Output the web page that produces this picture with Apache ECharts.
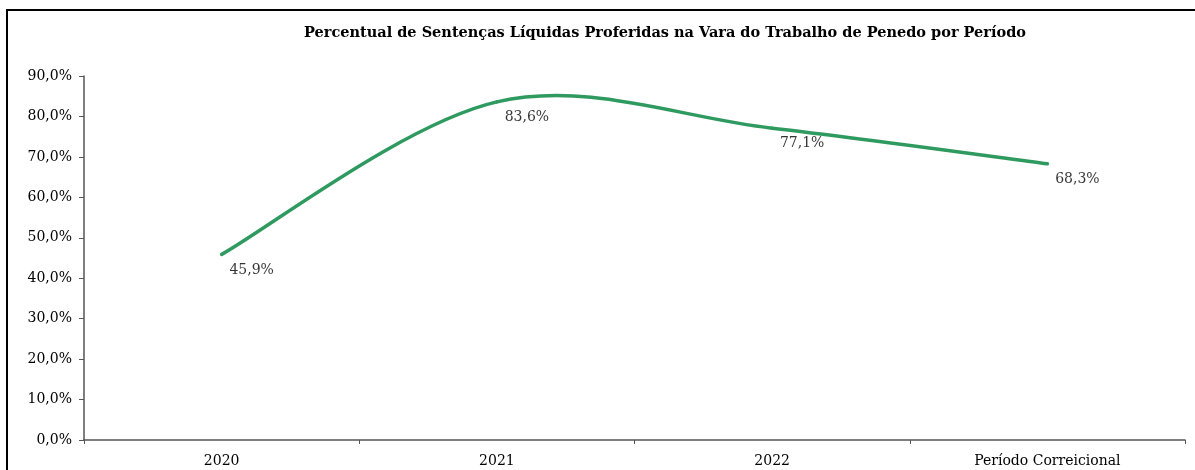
<!DOCTYPE html>
<html>
<head>
<meta charset="utf-8">
<script src="https://cdn.jsdelivr.net/npm/echarts@6/dist/echarts.min.js"></script>
<style>
  html, body { margin: 0; padding: 0; background: #fff; }
  #main { width: 1195px; height: 470px; }
</style>
</head>
<body>
<div id="main"></div>
<script>
// dados do gráfico
const categorias = ['2020', '2021', '2022', 'Período Correicional']
const percentuais = [45.9, 83.6, 77.1, 68.3]
const yTicks = { min: 0, max: 90, interval: 10 }

const fonte = '"DejaVu Serif", "Liberation Serif", serif'
const fmt = v => v.toFixed(1).replace('.', ',') + '%'
const verde = '#2f9a60'

const myChart = echarts.init(document.getElementById('main'))

// curva suavizada estilo Excel (Catmull-Rom), um segmento por ponto
function renderSegmento(params, api) {
  const i = params.dataIndex
  const n = percentuais.length
  if (i >= n - 1) return null
  const pt = j => {
    const k = Math.max(0, Math.min(n - 1, j))
    return api.coord([k, percentuais[k]])
  }
  const p0 = pt(i - 1), p1 = pt(i), p2 = pt(i + 1), p3 = pt(i + 2)
  return {
    type: 'bezierCurve',
    shape: {
      x1: p1[0], y1: p1[1],
      cpx1: p1[0] + (p2[0] - p0[0]) / 6, cpy1: p1[1] + (p2[1] - p0[1]) / 6,
      cpx2: p2[0] - (p3[0] - p1[0]) / 6, cpy2: p2[1] - (p3[1] - p1[1]) / 6,
      x2: p2[0], y2: p2[1]
    },
    style: { fill: 'none', stroke: verde, lineWidth: 3.5, lineCap: 'round' }
  }
}

const option = {
  backgroundColor: '#fff',
  animation: false,
  title: {
    text: 'Percentual de Sentenças Líquidas Proferidas na Vara do Trabalho de Penedo por Período',
    left: 660,
    textAlign: 'center',
    top: 21,
    textStyle: { fontFamily: fonte, fontSize: 14.5, fontWeight: 'bold', color: '#000' }
  },
  // moldura externa
  graphic: [{
    type: 'rect',
    shape: { x: 7, y: 10, width: 1200, height: 480 },
    style: { fill: 'none', stroke: '#000', lineWidth: 2 },
    silent: true
  }],
  grid: { left: 84, right: 10, top: 76, bottom: 30 },
  xAxis: {
    type: 'category',
    data: categorias,
    boundaryGap: true,
    axisLine: { lineStyle: { color: '#555', width: 1.5 } },
    axisTick: { show: true, length: 4, inside: false, lineStyle: { color: '#555' } },
    axisLabel: { fontFamily: fonte, fontSize: 14, color: '#000', margin: 14 }
  },
  yAxis: {
    type: 'value',
    min: yTicks.min,
    max: yTicks.max,
    interval: yTicks.interval,
    splitLine: { show: false },
    axisLine: { show: true, lineStyle: { color: '#555', width: 1.5 } },
    axisTick: { show: true, length: 5, lineStyle: { color: '#555' } },
    axisLabel: { fontFamily: fonte, fontSize: 14, color: '#000', margin: 12, formatter: fmt }
  },
  series: [{
    type: 'custom',
    renderItem: renderSegmento,
    data: percentuais.map((v, i) => [i, v]),
    encode: { x: 0, y: 1 },
    z: 2
  }, {
    type: 'scatter',
    data: percentuais.map((v, i) => [i, v]),
    symbolSize: 1,
    itemStyle: { color: 'rgba(0,0,0,0)' },
    label: {
      show: true,
      position: 'bottom',
      distance: 4,
      offset: [30, 4],
      fontFamily: fonte,
      fontSize: 14,
      color: '#000',
      formatter: p => fmt(p.value[1])
    },
    z: 3
  }]
}

myChart.setOption(option)
</script>
</body>
</html>
